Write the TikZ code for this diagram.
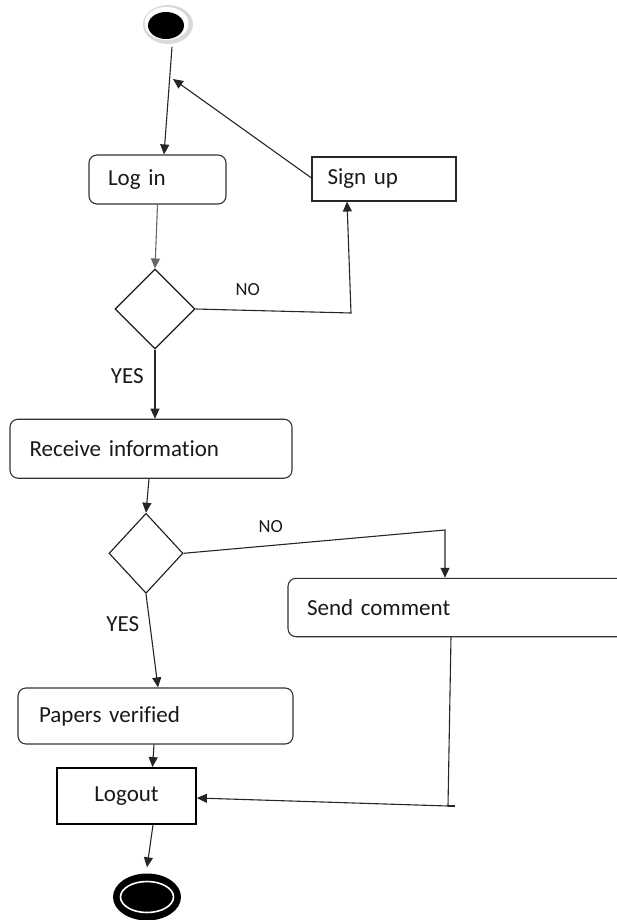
\documentclass[tikz,border=0pt]{standalone}
\usepackage{fontspec}
\setmainfont{Carlito}[Ligatures=NoCommon]
\usetikzlibrary{arrows.meta,shapes.geometric,calc}
\newcommand{\actfont}{\fontsize{23pt}{26pt}\selectfont}
\newcommand{\lblfont}{\fontsize{18.5pt}{21pt}\selectfont}
\begin{document}
\begin{tikzpicture}[x=1pt,y=-1pt,
  act/.style={draw=black!80, line width=1.1pt, rounded corners=8pt, align=left,
              inner ysep=0pt, font=\actfont, text=black!90},
  sharpbox/.style={draw=black!85, line width=1.1pt, align=left,
              inner ysep=0pt, font=\actfont, text=black!90},
  decision/.style={diamond, draw=black!90, line width=1.1pt, inner sep=0pt},
  flow/.style={draw=black!85, line width=1.1pt, -{Triangle[length=10pt,width=9pt]}},
  wire/.style={draw=black!85, line width=1.1pt},
  guard/.style={font=\lblfont, text=black!90, inner sep=0pt},
  yesguard/.style={font=\actfont, text=black!90, inner sep=0pt}]

\useasboundingbox (0,0) rectangle (617,920);
\clip (0,0) rectangle (617,920);

% initial state: black disc in a light grey halo
\node[ellipse, fill=gray!30, minimum width=50pt, minimum height=39pt, inner sep=0pt] (start) at (168,24.5) {};
\fill[white] (166.5,23.5) ellipse [x radius=22, y radius=16.5];
\fill[black] (166,25.5) ellipse [x radius=18, y radius=13.5];

% activities
\node[act, text width=99pt, inner xsep=19pt, minimum height=49pt] (login) at (157.5,179.5) {Log in};
\node[sharpbox, text width=113pt, inner xsep=15.5pt, minimum height=44pt] (signup) at (384,179) {Sign up};
\node[act, text width=243pt, inner xsep=19.5pt, minimum height=59pt] (receive) at (151,448.7) {Receive information};
\node[act, text width=322pt, inner xsep=19pt, minimum height=58.4pt] (send) at (468,607.5) {Send comment};
\node[act, text width=233pt, inner xsep=21pt, minimum height=56pt] (papers) at (155.5,716) {Papers verified};
\node[sharpbox, draw=black, line width=1.8pt, align=center, minimum width=139pt, minimum height=56pt] (logout) at (126.5,796) {Logout};

% decisions
\node[decision, minimum width=80pt, minimum height=80pt] (d1) at (155,309) {};
\node[decision, minimum width=74pt, minimum height=80pt] (d2) at (146,553.3) {};

% guards
\node[guard] (no1) at (247.7,290) {NO};
\node[yesguard] (yes1) at (127.3,376) {YES};
\node[guard] (no2) at (270.8,526.7) {NO};
\node[yesguard] (yes2) at (122.8,624) {YES};

% final state
\node[ellipse, fill=black, minimum width=68pt, minimum height=47pt, inner sep=0pt] (stop) at (147,897) {};
\draw[white, line width=1.6pt] (stop.center) ellipse [x radius=26.5, y radius=15.5];

% bend points
\coordinate (back) at (173,79);
\coordinate (c1) at (351,313);
\coordinate (c2) at (445,530);
\coordinate (c3) at (448,806);

% control flow
\draw[flow] ([xshift=4pt,yshift=-22.5pt]start.center) -- ([xshift=6.5pt]login.north);
\draw[flow] ([yshift=1pt]signup.west) -- (back);
\draw[flow, draw=black!60] (login.south) -- (d1.north);
\draw[flow] (d1.east) -- (c1) -- ([xshift=-37pt]signup.south);
\draw[flow] (d1.south) -- (d1.south |- receive.north);
\draw[flow] ([xshift=-2pt]receive.south) -- (d2.north);
\draw[flow] (d2.east) -- (c2) -- (c2 |- send.north);
\draw[flow] (d2.south) -- ([xshift=2.5pt]papers.north);
\draw[flow] ([xshift=-1.5pt]papers.south) -- ([xshift=26pt]logout.north);
\draw[flow] ([xshift=-17pt]send.south) -- (c3) -- ([yshift=-2pt]logout.east);
\draw[wire] (c3) -- ++(7,0);
\draw[flow] ([xshift=26.5pt]logout.south) -- ([yshift=6pt]stop.north);
\end{tikzpicture}
\end{document}
